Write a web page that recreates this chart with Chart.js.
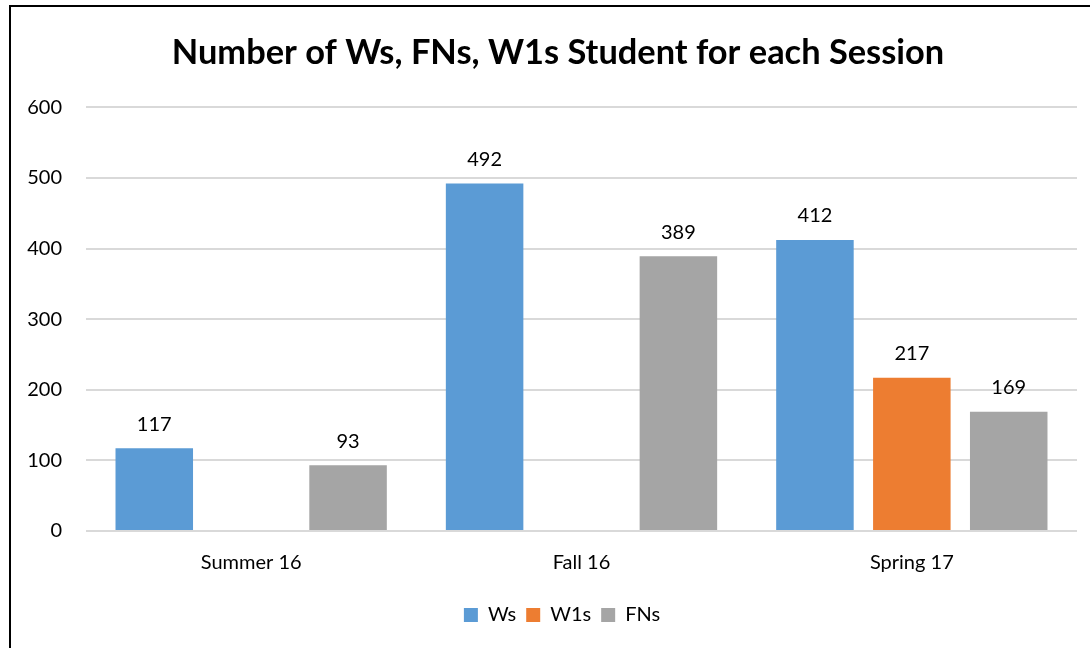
<!DOCTYPE html>
<html>
<head>
<meta charset="utf-8">
<script src="https://cdn.jsdelivr.net/npm/chart.js@4"></script>
<style>
  html, body { margin: 0; padding: 0; background: #fff; overflow: hidden; }
  #wrap { position: absolute; left: 0; top: 0; width: 1090px; height: 648px; overflow: hidden; }
</style>
</head>
<body>
<div id="wrap"><canvas id="myChart" width="1130" height="648"></canvas></div>
<script>
// Datos del gráfico
const sesiones = ['Summer 16', 'Fall 16', 'Spring 17'];
const wsValues = [117, 492, 412];
const w1sValues = [null, null, 217];
const fnsValues = [93, 389, 169];
const yTicks = [0, 100, 200, 300, 400, 500, 600];

const fontFamily = "Lato, 'Open Sans', sans-serif";

// Marco del gráfico (borde izquierdo y superior)
const framePlugin = {
    id: 'framePlugin',
    beforeDraw: (chart) => {
        const ctx = chart.ctx;
        ctx.save();
        ctx.fillStyle = '#fff';
        ctx.fillRect(0, 0, chart.width, chart.height);
        ctx.strokeStyle = '#000';
        ctx.lineWidth = 2;
        ctx.beginPath();
        ctx.moveTo(10, chart.height);
        ctx.lineTo(10, 6);
        ctx.lineTo(chart.width, 6);
        ctx.stroke();
        ctx.restore();
    }
};

// Centrar título y leyenda como en el original (el marco sigue más allá del borde derecho)
const shiftPlugin = {
    id: 'shiftPlugin',
    afterLayout: (chart) => {
        chart.titleBlock.left += 6;
        chart.titleBlock.right += 6;
        chart.legend.left += 10;
        chart.legend.right += 10;
    }
};

// Etiquetas de valores encima de las barras
const valueLabels = {
    id: 'valueLabels',
    afterDatasetsDraw: (chart) => {
        const ctx = chart.ctx;
        ctx.save();
        ctx.font = '20px ' + fontFamily;
        ctx.fillStyle = '#000';
        ctx.textAlign = 'center';
        ctx.textBaseline = 'bottom';
        chart.data.datasets.forEach((dataset, i) => {
            const meta = chart.getDatasetMeta(i);
            meta.data.forEach((bar, j) => {
                const v = dataset.data[j];
                if (v === null || v === undefined) return;
                ctx.fillText(String(v), bar.x, bar.y - 14);
            });
        });
        ctx.restore();
    }
};

const ctx = document.getElementById('myChart').getContext('2d');
new Chart(ctx, {
    type: 'bar',
    data: {
        labels: sesiones,
        datasets: [
            { label: 'Ws', data: wsValues, backgroundColor: '#5b9bd5' },
            { label: 'W1s', data: w1sValues, backgroundColor: '#ed7d31' },
            { label: 'FNs', data: fnsValues, backgroundColor: '#a5a5a5' }
        ]
    },
    options: {
        responsive: false,
        animation: false,
        categoryPercentage: 0.88,
        barPercentage: 0.8,
        layout: { padding: { left: 27, right: 53, top: 24, bottom: 13 } },
        scales: {
            y: {
                min: 0,
                max: 600,
                afterBuildTicks: (axis) => { axis.ticks = yTicks.map(v => ({ value: v })); },
                afterFit: (axis) => { axis.width = 59; },
                grid: { color: '#d9d9d9', lineWidth: 2, drawTicks: false },
                border: { display: false },
                ticks: {
                    color: '#000',
                    padding: 24,
                    font: { family: fontFamily, size: 20 }
                }
            },
            x: {
                grid: { display: false, drawTicks: false },
                border: { display: false },
                ticks: {
                    color: '#000',
                    padding: 20,
                    font: { family: fontFamily, size: 20 }
                }
            }
        },
        plugins: {
            title: {
                display: true,
                text: 'Number of Ws, FNs, W1s Student for each Session',
                color: '#000',
                font: { family: fontFamily, size: 34.4, weight: 'bold' },
                padding: { top: 8, bottom: 34 }
            },
            legend: {
                position: 'bottom',
                labels: {
                    color: '#000',
                    boxWidth: 14,
                    boxHeight: 14,
                    padding: 10,
                    font: { family: fontFamily, size: 20 }
                }
            },
            tooltip: { enabled: false }
        }
    },
    plugins: [framePlugin, shiftPlugin, valueLabels]
});
</script>
</body>
</html>
